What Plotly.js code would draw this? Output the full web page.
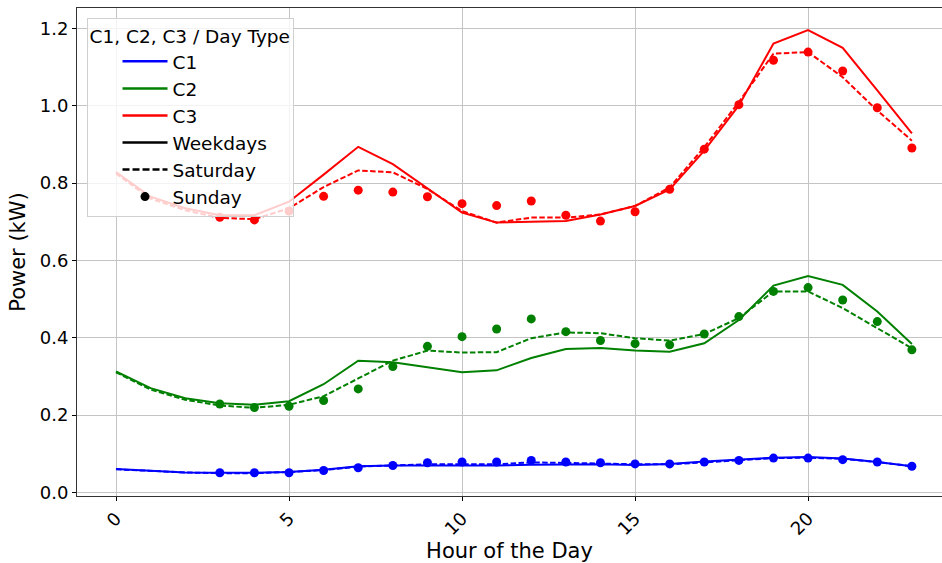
<!DOCTYPE html>
<html>
<head>
<meta charset="utf-8">
<script src="https://cdn.plot.ly/plotly-3.0.1.min.js"></script>
<style>html,body{margin:0;padding:0;background:#fff;}#chart{width:942px;height:563px;}</style>
</head>
<body>
<div id="chart"></div>
<script>
const hours = [0,1,2,3,4,5,6,7,8,9,10,11,12,13,14,15,16,17,18,19,20,21,22,23];
const sundayHours = [3,4,5,6,7,8,9,10,11,12,13,14,15,16,17,18,19,20,21,22,23];

const c1Weekday = [0.061,0.057,0.052,0.051,0.051,0.053,0.059,0.068,0.070,0.070,0.070,0.070,0.072,0.073,0.073,0.071,0.074,0.080,0.085,0.090,0.092,0.088,0.079,0.068];
const c1Saturday = [0.060,0.056,0.052,0.050,0.050,0.053,0.058,0.067,0.070,0.073,0.073,0.073,0.078,0.077,0.075,0.073,0.073,0.078,0.084,0.089,0.090,0.087,0.079,0.068];
const c1Sunday = [0.051,0.051,0.051,0.057,0.064,0.070,0.077,0.079,0.079,0.083,0.079,0.077,0.074,0.074,0.079,0.083,0.089,0.089,0.085,0.079,0.068];

const c2Weekday = [0.313,0.270,0.244,0.231,0.227,0.236,0.280,0.341,0.337,0.324,0.311,0.316,0.348,0.371,0.374,0.367,0.364,0.386,0.446,0.535,0.560,0.537,0.468,0.384];
const c2Saturday = [0.311,0.266,0.240,0.225,0.219,0.227,0.249,0.296,0.341,0.367,0.362,0.363,0.399,0.414,0.412,0.399,0.393,0.410,0.451,0.520,0.520,0.477,0.425,0.373];
const c2Sunday = [0.229,0.220,0.223,0.238,0.268,0.326,0.378,0.403,0.423,0.449,0.416,0.393,0.385,0.382,0.410,0.455,0.520,0.530,0.498,0.442,0.369];

const c3Weekday = [0.829,0.765,0.735,0.717,0.717,0.752,0.822,0.894,0.849,0.787,0.724,0.698,0.700,0.702,0.719,0.741,0.784,0.884,1.001,1.161,1.196,1.150,1.040,0.929];
const c3Saturday = [0.825,0.760,0.730,0.710,0.707,0.735,0.790,0.833,0.828,0.785,0.728,0.698,0.711,0.711,0.719,0.741,0.789,0.893,1.010,1.135,1.139,1.074,0.988,0.910];
const c3Sunday = [0.712,0.705,0.728,0.766,0.782,0.777,0.765,0.747,0.742,0.754,0.717,0.702,0.726,0.784,0.888,1.003,1.118,1.139,1.090,0.995,0.891];

const clusterNames = ['C1','C2','C3'];
const clusterColors = ['#0000ff','#008000','#ff0000'];
const dayTypes = ['Weekdays','Saturday','Sunday'];
const xTicks = [0,5,10,15,20];
const yTicks = [0.0,0.2,0.4,0.6,0.8,1.0,1.2];

const series = [
  [c1Weekday, c1Saturday, c1Sunday],
  [c2Weekday, c2Saturday, c2Sunday],
  [c3Weekday, c3Saturday, c3Sunday]
];

const DASH = '5.5px,2.4px';
const traces = [];
series.forEach((s, i) => {
  const col = clusterColors[i];
  traces.push({x: hours, y: s[0], type: 'scatter', mode: 'lines', line: {color: col, width: 2}, showlegend: false, hoverinfo: 'skip'});
  traces.push({x: hours, y: s[1], type: 'scatter', mode: 'lines', line: {color: col, width: 2, dash: DASH}, showlegend: false, hoverinfo: 'skip'});
  traces.push({x: sundayHours, y: s[2], type: 'scatter', mode: 'markers', marker: {color: col, size: 9}, showlegend: false, hoverinfo: 'skip'});
});
// legend proxies
clusterNames.forEach((n, i) => {
  traces.push({x: [null], y: [null], type: 'scatter', mode: 'lines', name: n, line: {color: clusterColors[i], width: 2.5}});
});
traces.push({x: [null], y: [null], type: 'scatter', mode: 'lines', name: dayTypes[0], line: {color: '#000', width: 2.5}});
traces.push({x: [null], y: [null], type: 'scatter', mode: 'lines', name: dayTypes[1], line: {color: '#000', width: 2.5, dash: '7px,3px'}});
traces.push({x: [null], y: [null], type: 'scatter', mode: 'markers', name: dayTypes[2], marker: {color: '#000', size: 9}});

const layout = {
  width: 942, height: 563,
  margin: {l: 77, r: 0, t: 8, b: 67, pad: 0},
  paper_bgcolor: '#fff', plot_bgcolor: '#fff',
  font: {family: 'DejaVu Sans, sans-serif', size: 18.5, color: '#000'},
  showlegend: true,
  xaxis: {
    range: [-1.127, 23.87],
    tickvals: xTicks, ticktext: xTicks.map(String),
    tickangle: -45,
    ticks: 'outside', ticklen: 4, tickcolor: '#000',
    showgrid: true, gridcolor: '#c4c4c4', gridwidth: 1,
    zeroline: false,
    showline: true, linecolor: '#333', linewidth: 1, mirror: true,
    tickfont: {size: 18},
    title: {text: 'Hour of the Day', font: {size: 21}, standoff: 4}
  },
  yaxis: {
    range: [-0.009, 1.253],
    tickvals: yTicks, ticktext: yTicks.map(v => v.toFixed(1)),
    ticks: 'outside', ticklen: 4, tickcolor: '#000',
    showgrid: true, gridcolor: '#c4c4c4', gridwidth: 1,
    zeroline: false,
    showline: true, linecolor: '#333', linewidth: 1, mirror: true,
    tickfont: {size: 18},
    title: {text: 'Power (kW)', font: {size: 21}, standoff: 8}
  },
  legend: {
    x: 0.011, y: 0.98, xanchor: 'left', yanchor: 'top',
    bgcolor: 'rgba(255,255,255,0.8)', bordercolor: '#d0d0d0', borderwidth: 1,
    font: {size: 18.5},
    title: {text: 'C1, C2, C3 / Day Type', font: {size: 18.5}},
    indentation: 30,
    itemwidth: 45,
    tracegroupgap: 0
  }
};

Plotly.newPlot('chart', traces, layout, {displayModeBar: false, staticPlot: true});
</script>
</body>
</html>
